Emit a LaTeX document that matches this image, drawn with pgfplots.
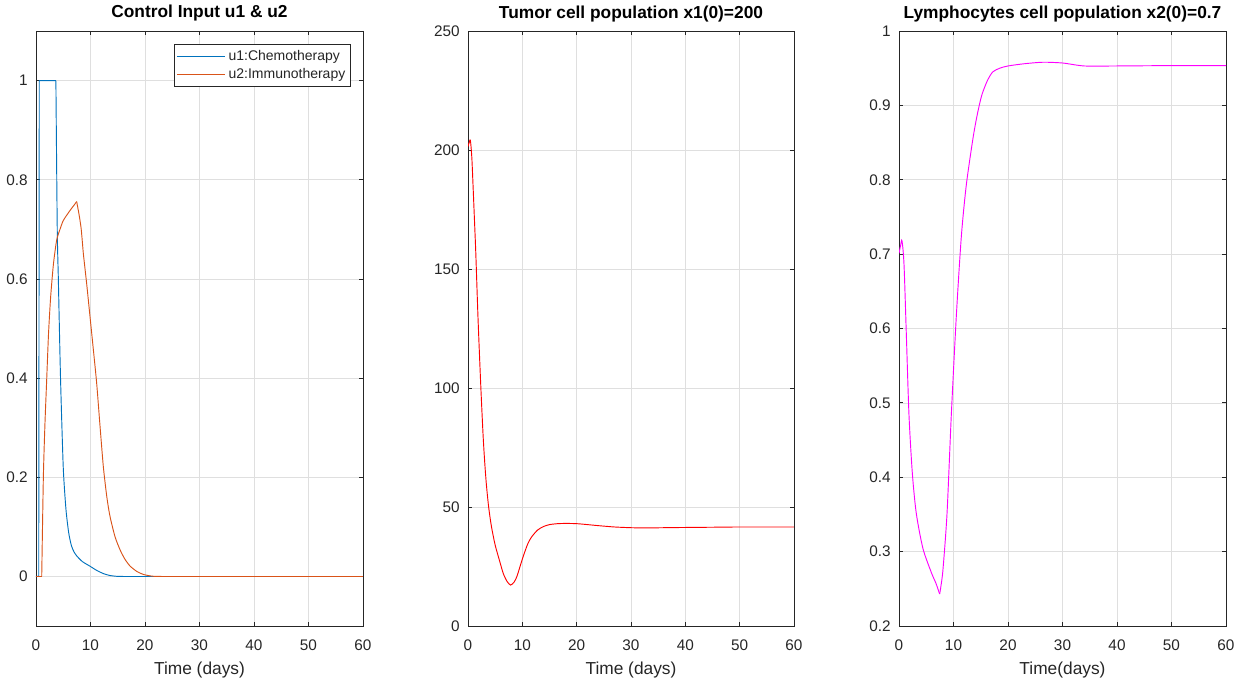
\documentclass[border=0pt]{standalone}
\usepackage{fontspec}
\setmainfont{Liberation Sans}
\usepackage{pgfplots}
\pgfplotsset{compat=1.18}
\definecolor{mblue}{rgb}{0,0.447,0.741}
\definecolor{morange}{rgb}{0.85,0.325,0.098}
\definecolor{mmag}{rgb}{1,0,1}
\definecolor{mred}{rgb}{1,0,0}
\definecolor{axcol}{rgb}{0.15,0.15,0.15}
\definecolor{gridcol}{rgb}{0.875,0.875,0.875}
\pgfplotsset{
  mystyle/.style={
    scale only axis,
    width=245.25pt, height=446.25pt,
    anchor=south west,
    xmin=0, xmax=60, xtick={0,10,...,60},
    grid=major,
    grid style={line width=0.5pt, draw=gridcol},
    axis line style={draw=axcol, line width=0.7pt},
    tick style={draw=axcol, line width=0.6pt},
    major tick length=3pt,
    tick align=inside,
    /pgf/number format/assume math mode=true,
    tick label style={font=\fontsize{11.5}{13}\selectfont, text=axcol},
    xticklabel style={anchor=base, yshift=-18pt},
    yticklabel style={anchor=east, inner sep=0pt, xshift=-6pt},
    title style={at={(axis description cs:0.5,1)}, anchor=base, yshift=3.75pt, font=\bfseries\fontsize{13}{15}\selectfont},
    xlabel style={at={(axis description cs:0.5,0)}, anchor=base, yshift=-36pt, font=\fontsize{13}{15}\selectfont, text=axcol},
    every axis plot/.append style={line width=0.7pt},
  }
}
\begin{document}
\begin{tikzpicture}
\useasboundingbox (0,0) rectangle (935.25pt,512.25pt);
% ---------- Plot 1 ----------
\begin{axis}[mystyle, at={(27pt,42.75pt)},
  ymin=-0.1, ymax=1.1, ytick={0,0.2,...,1},
  title={Control Input u1 \& u2},
  xlabel={Time (days)},
  legend style={at={(axis description cs:0.9633,0.978)}, anchor=north east,
    draw=axcol, line width=0.5pt, fill=white,
    font=\fontsize{10.5}{12}\selectfont, text=axcol,
    inner xsep=1.5pt, inner ysep=2pt,
    nodes={inner ysep=2.3pt, inner xsep=2.5pt}},
  legend cell align=left,
  legend image code/.code={\draw[#1] (0pt,0pt) -- (36pt,0pt);},
]
\addplot[mblue] coordinates {
(0,0)(0.5,0)(0.6,1)(3.65,1)
};
\addlegendentry{u1:Chemotherapy}
\addplot[morange] coordinates {
(0,0)(1.05,0)
};
\addlegendentry{u2:Immunotherapy}
\addplot[mblue, smooth, tension=0.4, forget plot] coordinates {
(3.65,1)(3.9,0.70)(4.1,0.60)(4.5,0.40)(5.0,0.22)(5.5,0.135)(6.0,0.088)(6.5,0.062)(7.0,0.049)(7.5,0.041)(8.5,0.030)(10,0.020)(11,0.013)(12.3,0.006)(13.5,0.002)(15,0)(16,0)
};
\addplot[mblue, forget plot] coordinates {(16,0)(60,0)};
\addplot[morange, smooth, tension=0.4, forget plot] coordinates {
(1.05,0)(1.35,0.2)(1.65,0.31)(1.96,0.396)(2.3,0.49)(2.69,0.564)(3.2,0.63)(3.79,0.678)(4.4,0.70)(5.02,0.718)(6.24,0.738)(7.0,0.749)(7.46,0.756)
};
\addplot[morange, smooth, tension=0.4, forget plot] coordinates {
(7.46,0.756)(7.9,0.73)(8.3,0.70)(8.69,0.651)(9.3,0.59)(9.91,0.524)(10.5,0.46)(11.13,0.39)(11.7,0.31)(12.35,0.222)(13.0,0.16)(13.58,0.121)(14.5,0.08)(15.41,0.054)(16.3,0.035)(17.25,0.021)(18.5,0.010)(19.7,0.004)(21,0.001)(22,0)(23,0)
};
\addplot[morange, forget plot] coordinates {(23,0)(60,0)};
\end{axis}
% ---------- Plot 2 ----------
\begin{axis}[mystyle, at={(351pt,42.75pt)}, width=244.5pt,
  ymin=0, ymax=250, ytick={0,50,...,250},
  title={Tumor cell population x1(0)=200},
  xlabel={Time (days)},
]
\addplot[mred, smooth, tension=0.45] coordinates {
(0,201.5)(0.2,203)(0.44,204)(0.7,197)(0.93,185)(1.2,170)(1.43,157)(1.85,129)(2.35,101)(2.78,80)(3.1,68)(3.4,59)(3.8,50)(4.3,42)(5.0,34)(5.86,27)(6.5,22)(7.2,18.7)(7.84,17.2)(8.5,18.5)(9.0,20.8)(9.55,24.8)(10.2,29.5)(11.0,34.5)(11.7,37.4)(12.8,40.3)(13.9,41.8)(15,42.6)(16.5,43.0)(18,43.1)(20,43.0)(22,42.6)(24.3,42.1)(27,41.6)(30,41.3)(33,41.2)(36,41.3)(40,41.4)(45,41.5)(50,41.6)(60,41.6)
};
\end{axis}
% ---------- Plot 3 ----------
\begin{axis}[mystyle, at={(674.25pt,42.75pt)},
  ymin=0.2, ymax=1, ytick={0.2,0.3,...,1.0},
  yticklabel style={/pgf/number format/.cd, fixed, precision=1},
  title={Lymphocytes cell population x2(0)=0.7},
  xlabel={Time(days)},
]
\addplot[mmag, smooth, tension=0.45] coordinates {
(0,0.701)(0.3,0.712)(0.55,0.718)(0.92,0.686)(1.35,0.591)(1.83,0.484)(2.45,0.405)(3.18,0.351)(4.4,0.304)(5.93,0.272)(6.8,0.257)(7.46,0.243)
};
\addplot[mmag, smooth, tension=0.45] coordinates {
(7.46,0.243)(7.7,0.254)(8.07,0.276)(8.81,0.351)(9.6,0.484)(10.52,0.617)(11.44,0.724)(12.35,0.793)(13.58,0.856)(14.4,0.889)(15.2,0.914)(16.2,0.933)(17.2,0.945)(18.5,0.950)(20,0.953)(23,0.956)(26.4,0.958)(30,0.957)(34,0.953)(40,0.953)(50,0.9535)(60,0.9535)
};
\end{axis}
\end{tikzpicture}
\end{document}
